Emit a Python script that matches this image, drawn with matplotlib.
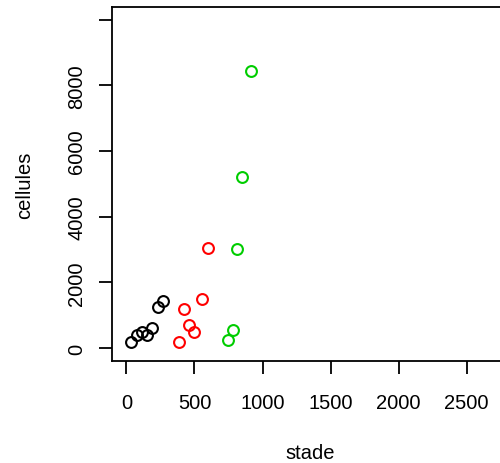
import matplotlib
matplotlib.use("Agg")
import matplotlib.pyplot as plt

# stade / cellules par groupe
stade_noir = [37, 78, 112, 152, 191, 232, 269]
cell_noir = [184, 407, 478, 407, 600, 1255, 1439]

stade_rouge = [387, 424, 460, 500, 556, 596]
cell_rouge = [202, 1203, 704, 499, 1509, 3040]

stade_vert = [747, 782, 816, 850, 919]
cell_vert = [245, 539, 3031, 5214, 8438]

x_ticks = [0, 500, 1000, 1500, 2000, 2500]
y_ticks = [0, 2000, 4000, 6000, 8000, 10000]
y_labels = ['0', '2000', '4000', '6000', '8000', '']

plt.rcParams['font.family'] = ['Liberation Sans', 'DejaVu Sans']

fig = plt.figure(figsize=(5, 4.64), dpi=100)
ax = fig.add_axes([0.2234, 0.2192, 1.0172 - 0.2234, 0.9838 - 0.2192])

style = dict(ls='none', marker='o', mfc='none', ms=7.8, mew=1.5)
ax.plot(stade_noir, cell_noir, color='black', **style)
ax.plot(stade_rouge, cell_rouge, color='#FF0000', **style)
ax.plot(stade_vert, cell_vert, color='#00CD00', **style)

ax.set_xlim(-108, 2808)
ax.set_ylim(-400, 10400)
ax.set_xticks(x_ticks)
ax.set_xticklabels([str(v) for v in x_ticks])
ax.set_yticks(y_ticks)
ax.set_yticklabels(y_labels, rotation=90, va='center')

ax.tick_params(axis='both', direction='out', length=9.5, width=1.3,
               labelsize=14.5, color='black')
ax.tick_params(axis='x', pad=13)
ax.tick_params(axis='y', pad=9)
for s in ax.spines.values():
    s.set_linewidth(1.3)

ax.set_xlabel('stade', fontsize=14.5)
ax.set_ylabel('cellules', fontsize=14.5)
ax.xaxis.set_label_coords(0.499, -0.2565)
ax.xaxis.label.set_va('center')
ax.yaxis.set_label_coords(-0.2184, 0.5)
ax.yaxis.label.set_va('center')

fig.savefig('out.png', dpi=100)
